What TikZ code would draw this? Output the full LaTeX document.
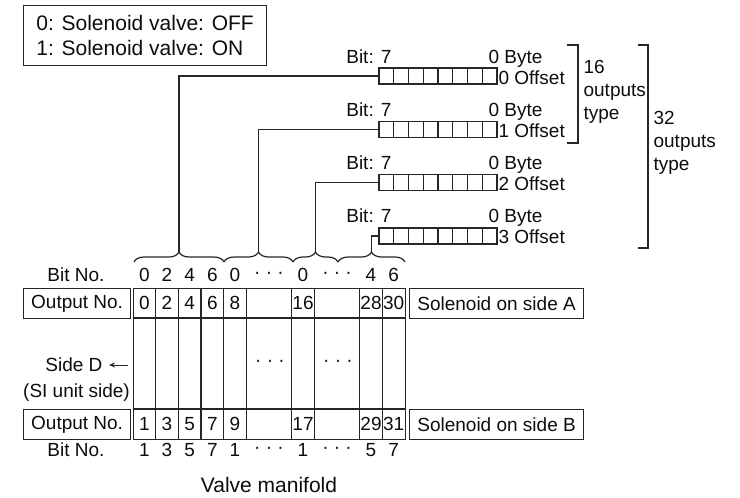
\documentclass[tikz,border=0pt]{standalone}
\usepackage{fontspec}
\setmainfont{Liberation Sans}
\usetikzlibrary{arrows.meta,decorations.pathreplacing}

\begin{document}
\begin{tikzpicture}[
    x=1pt, y=-1pt,
    color=black!85, line width=1.2pt,
    every node/.style={inner sep=0pt, text=black!95, font=\fontsize{19}{23}\selectfont},
    big/.style={font=\fontsize{21}{25}\selectfont},
    box/.style={rectangle, draw, inner sep=0pt},
    bytebox/.style={box, minimum width=118pt, minimum height=16pt},
    rowbox/.style={box, minimum height=30pt, anchor=north west},
    brc/.style={decorate, decoration={brace, amplitude=10pt}},
    arrow/.style={-{Stealth[length=6pt,width=5pt]}, line width=1pt}
]
\useasboundingbox (0,0) rectangle (740,498);

\node[box, big, align=left, minimum width=243pt, minimum height=60pt, anchor=north west] (legend) at (23,5)
    {0: Solenoid valve: OFF\\1: Solenoid valve: ON};

\foreach \k/\tx in {0/179,1/258.5,2/315.5,3/371.5} {
    \pgfmathsetmacro{\yy}{76+53.33*\k}
    \node[bytebox] (byte\k) at (438,\yy) {};
    \foreach \c in {1,...,7}
        \draw (379+\c*14.75,\yy-8) -- (379+\c*14.75,\yy+8);
    \node[anchor=base east] (bit\k) at (392,\yy-13) {Bit: 7};
    \node[anchor=base west] (bytelbl\k) at (488,\yy-13) {0 Byte};
    \node[anchor=base west] (offset\k) at (498,\yy+8) {\k\ Offset};
    \coordinate (tip\k) at (\tx,252);
    \draw (byte\k.west) -| (tip\k);
}

\draw[brc] (134,262) -- (224,262);
\draw[brc] (224,262) -- (293,262);
\draw[brc] (293,262) -- (338,262);
\draw[brc] (338,262) -- (405,262);

\draw (567,45) -| (578,143) -- (567,143);
\node[anchor=west, align=left] (type16) at (583,92) {16\\outputs\\type};
\draw (638,45) -| (648,248) -- (638,248);
\node[anchor=west, align=left] (type32) at (653,143) {32\\outputs\\type};

\node (bitnoA) at (76,275) {Bit No.};
\node[rowbox, minimum width=107pt] (outA) at (23,288) {Output No.};
\node (sided) [anchor=east] at (103,365) {Side D};
\coordinate (sidearr) at (128,365);
\draw[arrow, shorten >=6pt] (sidearr) -- (sided.east);
\node (siside) at (76.5,393) {(SI unit side)};
\node[rowbox, minimum width=107pt] (outB) at (23,409) {Output No.};
\node (bitnoB) at (76,450) {Bit No.};

\node[box, minimum width=272pt, minimum height=151pt, anchor=north west] (manifold) at (133,288) {};
\draw (133,318) -- (405,318);
\draw (133,409) -- (405,409);
\foreach \u in {1,2,3,4,5,7,8,10,11}
    \draw (133+\u*22.67,288) -- (133+\u*22.67,439);

\foreach \u/\n in {0/0,1/2,2/4,3/6,4/8,7/16,10/28,11/30}
    \node (a\n) at (144.33+\u*22.67,303) {\n};
\foreach \u/\n in {0/1,1/3,2/5,3/7,4/9,7/17,10/29,11/31}
    \node (b\n) at (144.33+\u*22.67,424) {\n};

\foreach \u/\n [count=\i] in {0/0,1/2,2/4,3/6,4/0,5.5/{· · ·},7/0,8.5/{· · ·},10/4,11/6}
    \node (bt\i) at (144.33+\u*22.67,275) {\n};
\foreach \u/\n [count=\i] in {0/1,1/3,2/5,3/7,4/1,5.5/{· · ·},7/1,8.5/{· · ·},10/5,11/7}
    \node (bb\i) at (144.33+\u*22.67,450) {\n};
\node (dotsA) at (270,363) {· · ·};
\node (dotsB) at (338,363) {· · ·};

\node[rowbox, minimum width=174pt] (solA) at (409,288) {Solenoid on side A};
\node[rowbox, minimum width=174pt] (solB) at (409,409) {Solenoid on side B};

\node[big] (valve) at (269,485) {Valve manifold};
\end{tikzpicture}
\end{document}
